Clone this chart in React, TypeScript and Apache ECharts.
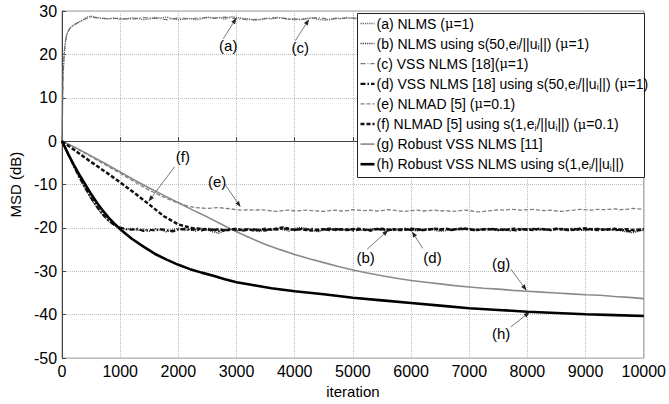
import React, { useEffect, useRef } from "react";
import * as echarts from "echarts";

// ---------- data ----------
const seriesNames = [
  "(a) NLMS (μ=1)",
  "(b) NLMS using s(50,ei/||ui||) (μ=1)",
  "(c) VSS NLMS [18](μ=1)",
  "(d) VSS NLMS [18] using s(50,ei/||ui||) (μ=1)",
  "(e) NLMAD [5] (μ=0.1)",
  "(f) NLMAD [5] using s(1,ei/||ui||) (μ=0.1)",
  "(g) Robust VSS NLMS [11]",
  "(h) Robust VSS NLMS using s(1,ei/||ui||)",
];

const aHead = [[0, 0], [10, 10], [20, 16], [40, 20.5], [60, 23], [80, 24.5], [120, 25.8], [180, 26.6], [260, 27.2], [350, 27.9], [430, 28.6], [500, 28.8]];
const aTail = [
  28.5, 28.3, 28.2, 28.4, 28.1, 28.2, 28.4, 28.3, 28.0, 28.2,
  28.5, 28.4, 28.6, 28.2, 28.0, 28.1, 28.3, 28.0, 28.2, 28.6,
  28.4, 28.5, 28.1, 28.7, 28.5, 28.3, 28.2, 27.9, 28.0, 28.3,
  28.2, 28.5, 28.4, 28.1, 28.3, 28.0, 28.3, 28.4, 28.1, 27.9,
  28.0, 28.4, 28.2, 28.5, 28.3, 28.1, 28.6, 28.4, 28.2, 28.0,
  28.3, 28.1, 28.4, 28.2, 28.5, 28.3, 28.0, 28.2, 28.4, 28.1,
  28.3, 28.2, 28.6, 28.4, 28.2, 28.0, 27.8, 28.1, 28.3, 28.0,
  27.9, 28.2, 28.4, 28.1, 28.3, 28.2, 28.0, 28.3, 28.1, 28.6,
  28.4, 28.2, 28.5, 28.3, 28.1, 28.4, 28.2, 28.6, 28.3, 28.5,
  28.2, 28.4, 28.3, 28.5, 28.4,
];

const cHead = [[0, 0], [10, 9], [20, 15.5], [40, 20.8], [60, 23.2], [90, 24.8], [130, 25.9], [200, 26.8], [300, 27.5], [400, 28.2], [500, 28.6]];
const cTail = [
  28.4, 28.2, 28.3, 28.1, 28.5, 28.3, 28.0, 28.4, 28.2, 28.5,
  28.3, 28.6, 28.2, 28.0, 28.1, 28.4, 28.3, 28.0, 28.2, 28.5,
  28.1, 28.3, 28.4, 28.2, 28.0, 28.4, 28.3, 28.1, 28.5, 28.2,
  28.0, 28.3, 28.4, 27.9, 28.1, 28.2, 28.4, 28.0, 28.3, 28.5,
  28.2, 28.4, 28.1, 28.6, 28.3, 28.2, 28.5, 28.4,
];

const bHead = [[0, 0], [100, -2.9], [200, -5.8], [300, -8.5], [400, -11.0], [500, -13.3], [600, -15.3], [700, -17.0], [800, -18.4], [900, -19.4], [1000, -20.0], [1100, -20.3]];
const bTail = [
  -20.1, -20.6, -20.3, -20.8, -20.2, -20.5, -20.9, -20.4, -20.1, -20.6,
  -20.3, -20.7, -20.2, -20.5, -20.9, -21.2, -20.6, -20.3, -20.7, -20.4,
  -20.2, -20.6, -20.8, -20.3, -20.5, -20.1, -20.4, -20.7, -20.2, -19.9,
  -20.1, -20.5, -20.9, -20.4, -20.2, -20.6, -20.3, -20.5, -20.2, -20.4,
  -20.6, -20.3, -20.1, -20.5, -20.3, -20.6, -20.2, -20.4, -20.3, -20.7,
  -20.4, -20.2, -20.5, -20.8, -20.6, -20.3, -20.1, -20.4, -20.2, -20.3,
  -20.5, -20.2, -20.4, -20.6, -20.3, -20.7, -20.4, -20.1, -20.5, -20.3,
  -20.2, -20.4, -20.6, -20.3, -20.1, -20.5, -20.2, -20.4, -20.6, -20.3,
  -20.4, -20.2, -20.5, -20.3, -20.6, -20.9, -21.1, -20.8, -20.5,
];

const dHead = [[0, 0], [100, -2.8], [200, -5.6], [300, -8.3], [400, -10.8], [500, -13.1], [600, -15.1], [700, -16.9], [800, -18.3], [900, -19.3], [1000, -19.9], [1100, -20.3]];
const dTail = [
  -20.4, -20.2, -20.7, -20.4, -20.6, -20.3, -20.5, -20.8, -20.4, -20.2,
  -20.5, -20.3, -20.6, -20.2, -20.4, -20.7, -20.5, -20.2, -20.4, -20.6,
  -20.4, -20.3, -20.5, -20.6, -20.2, -20.4, -20.1, -20.3, -20.5, -20.2,
  -20.4, -20.2, -20.6, -20.3, -20.5, -20.2, -20.4, -20.3, -20.6, -20.4,
  -20.3, -20.5, -20.2, -20.4, -20.6, -20.3, -20.4, -20.2, -20.5, -20.3,
  -20.5, -20.3, -20.2, -20.4, -20.2, -20.5, -20.3, -20.2, -20.4, -20.5,
  -20.3, -20.4, -20.2, -20.5, -20.4, -20.3, -20.6, -20.3, -20.4, -20.2,
  -20.4, -20.3, -20.5, -20.2, -20.4, -20.3, -20.2, -20.5, -20.3, -20.4,
  -20.2, -20.4, -20.3, -20.5, -20.4, -20.6, -20.8, -20.5, -20.4,
];

const eHead = [[0, 0], [250, -1.7], [500, -3.6], [750, -5.5], [1000, -7.4], [1250, -9.4], [1500, -11.3], [1750, -12.9], [2000, -14.3], [2200, -15.1], [2300, -15.3]];
const eTail = [
  -15.4, -15.5, -15.4, -15.3, -15.5, -15.6, -15.8, -15.9, -15.8, -15.9,
  -15.8, -15.9, -16.1, -16.2, -16.0, -15.9, -16.1, -16.0, -15.9, -16.0,
  -16.1, -16.2, -16.0, -15.9, -16.1, -16.0, -15.8, -15.9, -16.0, -15.9,
  -16.1, -16.0, -15.8, -15.9, -16.1, -16.2, -16.0, -15.9, -16.1, -16.0,
  -15.9, -16.1, -16.0, -16.2, -16.1, -15.9, -16.0, -16.2, -16.3, -16.1,
  -16.0, -15.8, -15.9, -15.7, -15.8, -15.9, -15.8, -15.7, -15.9, -16.0,
  -15.9, -16.1, -16.2, -16.0, -15.9, -15.7, -15.8, -15.9, -15.7, -15.8,
  -15.7, -15.6, -15.8, -15.7, -15.5, -15.6, -15.7,
];

const fHead = [[0, 0], [250, -2.4], [500, -4.8], [750, -7.1], [1000, -9.5], [1250, -12.0], [1500, -14.6], [1750, -17.3], [2000, -19.2], [2250, -20.1], [2500, -20.3]];
const fTail = [
  -20.5, -20.3, -20.6, -20.4, -20.2, -20.5, -20.3, -20.6, -20.4, -20.2,
  -20.4, -20.1, -19.9, -20.2, -20.4, -20.3, -20.5, -20.6, -20.4, -20.3,
  -20.2, -20.4, -20.3, -20.5, -20.3, -20.2, -20.4, -20.6, -20.3, -20.2,
  -20.4, -20.3, -20.5, -20.4, -20.2, -20.3, -20.5, -20.4, -20.2, -20.3,
  -20.2, -20.4, -20.3, -20.1, -20.3, -20.5, -20.4, -20.2, -20.4, -20.3,
  -20.5, -20.3, -20.2, -20.4, -20.3, -20.5, -20.2, -20.3, -20.4, -20.2,
  -20.3, -20.5, -20.4, -20.2, -20.1, -20.3, -20.5, -20.4, -20.3, -20.2,
  -20.4, -20.3, -20.5, -20.4, -20.3,
];

const gPts = [[0, 0], [250, -1.6], [500, -3.4], [750, -5.2], [1000, -7.1], [1250, -9.0], [1500, -10.8], [1750, -12.5], [2000, -14.2], [2250, -15.9], [2500, -17.5], [2750, -19.2], [3000, -20.9], [3250, -22.4], [3500, -23.8], [3750, -25.0], [4000, -26.1], [4250, -27.1], [4500, -28.0], [4750, -28.9], [5000, -29.7], [5250, -30.4], [5500, -31.0], [5750, -31.6], [6000, -32.1], [6250, -32.5], [6500, -32.9], [6750, -33.3], [7000, -33.6], [7250, -33.9], [7500, -34.1], [7750, -34.4], [8000, -34.6], [8250, -34.8], [8500, -35.0], [8750, -35.2], [9000, -35.4], [9250, -35.5], [9500, -35.8], [9750, -36.0], [10000, -36.3]];

const hPts = [[0, 0], [100, -2.8], [200, -5.4], [300, -7.8], [400, -10.0], [500, -12.2], [600, -14.2], [700, -16.0], [800, -17.6], [900, -19.0], [1000, -20.3], [1200, -22.5], [1400, -24.3], [1600, -26.0], [1800, -27.3], [2000, -28.5], [2200, -29.5], [2400, -30.3], [2600, -31.0], [2800, -31.8], [3000, -32.5], [3300, -33.2], [3600, -33.9], [4000, -34.6], [4500, -35.3], [5000, -36.1], [5500, -36.7], [6000, -37.3], [6500, -37.9], [7000, -38.5], [7500, -38.9], [8000, -39.3], [8500, -39.6], [9000, -39.9], [9500, -40.1], [10000, -40.3]];

const xTicks = [0, 10000, 1000];
const yTicks = [-50, 30, 10];

// annotations: label, text position, arrow tail, arrow head (data coords)
const annotations = [
  { label: "(a)", t: [2857, 22.1], p1: [2773, 23.6], p2: [2997, 28.4] },
  { label: "(c)", t: [4096, 21.7], p1: [4012, 23.2], p2: [4247, 28.1] },
  { label: "(f)", t: [2076, -3.6], p1: [1936, -5.9], p2: [1487, -13.9] },
  { label: "(e)", t: [2665, -9.2], p1: [2805, -10.0], p2: [3069, -15.2] },
  { label: "(b)", t: [5219, -26.7], p1: [5246, -24.9], p2: [5608, -20.5] },
  { label: "(d)", t: [6369, -26.7], p1: [6200, -24.7], p2: [6015, -20.8] },
  { label: "(g)", t: [7547, -28.2], p1: [7715, -29.5], p2: [7985, -34.4] },
  { label: "(h)", t: [7547, -44.3], p1: [7715, -42.8], p2: [8040, -39.4] },
];

function build(head: number[][], start: number, step: number, tail: number[]) {
  return head.concat(tail.map((v, i) => [start + i * step, v]));
}

const FONT = "Liberation Sans, Arial, sans-serif";

export default function App() {
  const ref = useRef<HTMLDivElement>(null);
  useEffect(() => {
    if (!ref.current) return;
    const chart = echarts.init(ref.current, undefined, { renderer: "svg" });

    const styles: { color: string; width: number; dash: number[] | null }[] = [
      { color: "#666666", width: 1.4, dash: [1.2, 1] },
      { color: "#444444", width: 1.5, dash: [1.2, 1] },
      { color: "#777777", width: 1.2, dash: [5, 2, 1, 2] },
      { color: "#111111", width: 2.2, dash: [5, 2, 1.5, 2] },
      { color: "#808080", width: 1.3, dash: [4, 2] },
      { color: "#111111", width: 2.5, dash: [4, 2] },
      { color: "#8a8a8a", width: 1.6, dash: null },
      { color: "#000000", width: 2.6, dash: null },
    ];
    const datas = [
      build(aHead, 600, 100, aTail),
      build(bHead, 1200, 100, bTail),
      build(cHead, 600, 200, cTail),
      build(dHead, 1200, 100, dTail),
      build(eHead, 2400, 100, eTail),
      build(fHead, 2600, 100, fTail),
      gPts,
      hPts,
    ];
    const drawOrder = [6, 4, 2, 0, 1, 5, 3, 7];
    const series = seriesNames.map((name, i) => ({
      name,
      type: "line",
      data: datas[i],
      symbol: "none",
      z: 2 + drawOrder.indexOf(i),
      color: styles[i].color,
      lineStyle: {
        color: styles[i].color,
        width: styles[i].width,
        type: styles[i].dash ? styles[i].dash : "solid",
      },
    }));

    const richName = (n: string) =>
      n.replace(/ei\/\|\|ui\|\|/g, "e{s|i}/||u{s|i}||").replace(/μ/g, "{m|μ}");

    const axisLabelFmt = (v: number) => String(v);

    chart.setOption({
      animation: false,
      backgroundColor: "#ffffff",
      textStyle: { fontFamily: FONT },
      grid: { left: 52, right: 23, top: 11, bottom: 35, show: true, borderColor: "#999", borderWidth: 1 },
      xAxis: {
        type: "value",
        min: xTicks[0],
        max: xTicks[1],
        interval: xTicks[2],
        name: "iteration",
        nameLocation: "middle",
        nameGap: 23,
        nameTextStyle: { fontFamily: FONT, fontSize: 15, color: "#000" },
        axisLine: { show: true, lineStyle: { color: "#444", width: 1 } },
        axisTick: { show: true, inside: true, length: 4, lineStyle: { color: "#444" } },
        axisLabel: { fontFamily: FONT, fontSize: 16, color: "#000", margin: 5, hideOverlap: false, formatter: axisLabelFmt },
        splitLine: { show: true, lineStyle: { color: "#bdbdbd", type: "dotted", width: 1 } },
      },
      yAxis: {
        type: "value",
        min: yTicks[0],
        max: yTicks[1],
        interval: yTicks[2],
        name: "MSD (dB)",
        nameLocation: "middle",
        nameGap: 39,
        nameRotate: 90,
        nameTextStyle: { fontFamily: FONT, fontSize: 15, color: "#000" },
        axisLine: { show: true, lineStyle: { color: "#444", width: 1 } },
        axisTick: { show: true, inside: true, length: 4, lineStyle: { color: "#444" } },
        axisLabel: { fontFamily: FONT, fontSize: 16, color: "#000", margin: 5, formatter: axisLabelFmt },
        splitLine: { show: true, lineStyle: { color: "#bdbdbd", type: "dotted", width: 1 } },
      },
      series,
    });

    const toPx = (p: number[]) => chart.convertToPixel({ gridIndex: 0 }, p) as number[];
    const graphics: any[] = [];

    // annotations with arrows
    annotations.forEach((a) => {
      const t = toPx(a.t);
      const p1 = toPx(a.p1);
      const p2 = toPx(a.p2);
      const dx = p2[0] - p1[0];
      const dy = p2[1] - p1[1];
      const len = Math.sqrt(dx * dx + dy * dy) || 1;
      const ux = dx / len;
      const uy = dy / len;
      const back = [p2[0] - ux * 6, p2[1] - uy * 6];
      graphics.push({
        type: "line",
        shape: { x1: p1[0], y1: p1[1], x2: back[0], y2: back[1] },
        style: { stroke: "#555", lineWidth: 0.8 },
        z: 20,
      });
      graphics.push({
        type: "polygon",
        shape: {
          points: [
            [p2[0], p2[1]],
            [back[0] - uy * 2.2, back[1] + ux * 2.2],
            [back[0] + uy * 2.2, back[1] - ux * 2.2],
          ],
        },
        style: { fill: "#222" },
        z: 20,
      });
      graphics.push({
        type: "text",
        x: t[0],
        y: t[1],
        style: {
          text: a.label,
          fontFamily: FONT,
          fontSize: 15,
          fill: "#000",
          align: "center",
          verticalAlign: "middle",
        },
        z: 20,
      });
    });

    // legend box (MATLAB style)
    const lgX = 357.5;
    const lgY = 13.5;
    const lgW = 287;
    const lgH = 164;
    const rowH = 20.1;
    graphics.push({
      type: "rect",
      shape: { x: lgX, y: lgY, width: lgW, height: lgH },
      style: { fill: "#fff", stroke: "#222", lineWidth: 1 },
      z: 30,
    });
    seriesNames.forEach((n, i) => {
      const cy = lgY + 10 + i * rowH;
      const st = styles[i];
      graphics.push({
        type: "line",
        shape: { x1: lgX + 3, y1: cy, x2: lgX + 17, y2: cy },
        style: { stroke: st.color, lineWidth: st.width, lineDash: st.dash || undefined },
        z: 31,
      });
      graphics.push({
        type: "text",
        x: lgX + 19,
        y: cy,
        style: {
          text: richName(n),
          fontFamily: FONT,
          fontSize: 14,
          fill: "#000",
          verticalAlign: "middle",
          rich: {
            s: { fontFamily: FONT, fontSize: 9, fill: "#000", padding: [7, 0, 0, 0] },
            m: { fontFamily: "DejaVu Serif, serif", fontSize: 13, fill: "#000" },
          },
        },
        z: 31,
      });
    });

    chart.setOption({ graphic: graphics });

    return () => chart.dispose();
  }, []);

  return <div ref={ref} style={{ width: 669, height: 404, position: "absolute", left: 0, top: 0 }} />;
}
